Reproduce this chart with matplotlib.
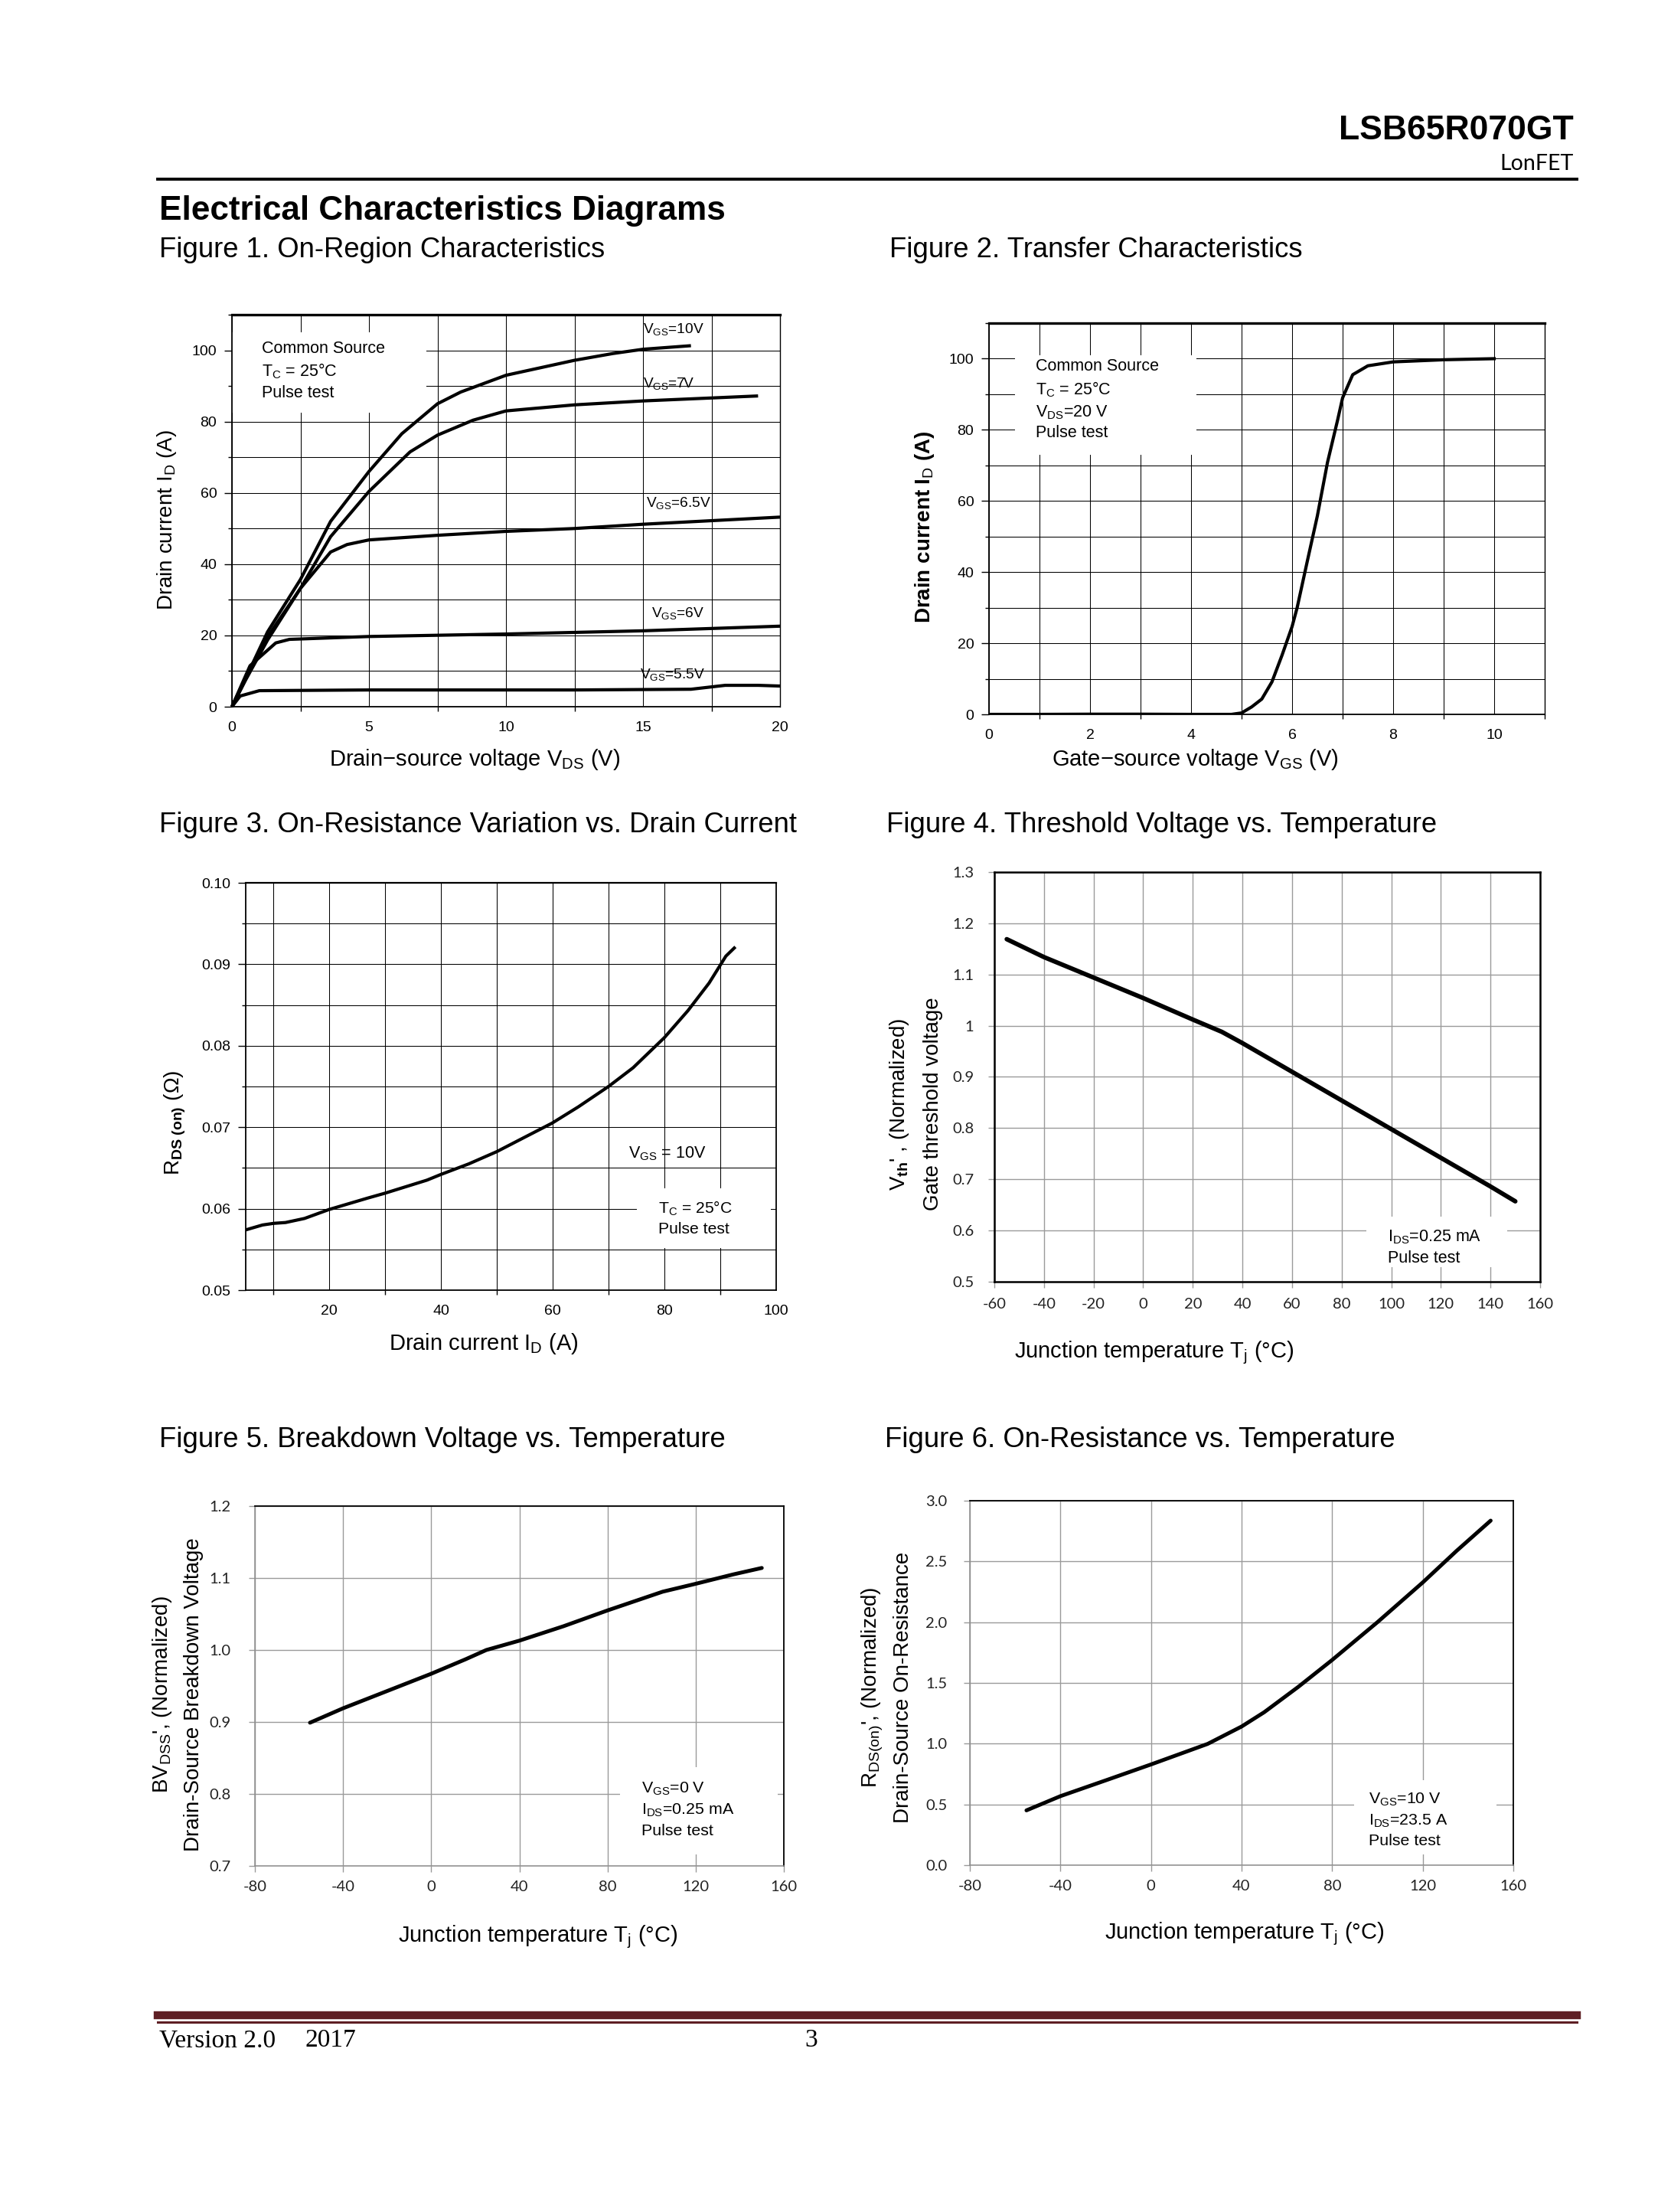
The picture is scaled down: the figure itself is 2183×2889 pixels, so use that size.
import matplotlib
matplotlib.use('Agg')
import matplotlib.pyplot as plt
from matplotlib.ticker import MultipleLocator, FixedLocator, FixedFormatter, FormatStrFormatter
from matplotlib.patches import Rectangle

plt.rcParams['font.family'] = ['Liberation Sans', 'DejaVu Sans']
plt.rcParams['mathtext.fontset'] = 'custom'
plt.rcParams['mathtext.rm'] = 'Liberation Sans'
plt.rcParams['mathtext.it'] = 'Liberation Sans:italic'
plt.rcParams['mathtext.bf'] = 'Liberation Sans:bold'
plt.rcParams['axes.unicode_minus'] = False

# ---------------- data ----------------
# Figure 1: On-region characteristics (VDS [V], ID [A])
f1_vgs10_x = [0, 0.5, 1.3, 2.5, 3.6, 5, 6.2, 7.5, 8.35, 10, 12.5, 13.9, 15, 16.75]
f1_vgs10_y = [0, 8, 21, 35.7, 52, 66, 76.6, 85, 88.3, 93, 97.2, 99.1, 100.3, 101.3]
f1_vgs7_x = [0, 0.5, 1.3, 2.5, 3.6, 5, 6.5, 7.5, 8.8, 10, 12.5, 15, 19.2]
f1_vgs7_y = [0, 7.8, 19.6, 33.2, 47.7, 60.4, 71.5, 76.2, 80.4, 83, 84.7, 85.8, 87.2]
f1_vgs65_x = [0, 0.5, 1.3, 2.5, 3.6, 4.2, 5, 7.5, 10, 12.5, 15, 20]
f1_vgs65_y = [0, 7.5, 18.7, 33.2, 43.4, 45.5, 46.8, 48.1, 49.2, 50, 51.2, 53.2]
f1_vgs6_x = [0, 0.66, 1.6, 2.1, 5, 10, 15, 20]
f1_vgs6_y = [0, 11.5, 17.9, 18.9, 19.7, 20.4, 21.3, 22.6]
f1_vgs55_x = [0, 0.3, 1.0, 5, 12.5, 16.75, 18, 19.2, 20]
f1_vgs55_y = [0, 3, 4.5, 4.7, 4.7, 4.9, 6, 6, 5.8]
f1_labels = ['V$_{\\mathrm{GS}}$=10V', 'V$_{\\mathrm{GS}}$=7V', 'V$_{\\mathrm{GS}}$=6.5V',
             'V$_{\\mathrm{GS}}$=6V', 'V$_{\\mathrm{GS}}$=5.5V']
f1_label_x = [15.0, 15.0, 15.1, 15.3, 14.9]
f1_label_y = [106, 90.6, 57.2, 26.2, 9.1]

# Figure 2: Transfer characteristics (VGS [V], ID [A])
f2_vgs = [0, 1, 2, 3, 4, 4.8, 5.0, 5.2, 5.4, 5.6, 5.8, 6.0, 6.1, 6.3, 6.5, 6.7, 6.9, 7.0, 7.2, 7.5, 8.0, 9.0, 10.0]
f2_id = [0, 0, 0.05, 0.05, 0, 0, 0.4, 2.1, 4.3, 9.1, 16.6, 24.7, 30, 43, 55.8, 70.8, 82.7, 89, 95.5, 98, 99.1, 99.7, 100]

# Figure 3: RDS(on) vs drain current
f3_id = [5.1, 8.1, 10.1, 12.2, 15.6, 20, 26.9, 30, 37.5, 40, 45, 50, 54.8, 59.9, 64.6, 70, 74.4, 80, 84.2, 88, 91, 92.5]
f3_rds = [0.0574, 0.058, 0.0582, 0.0583, 0.0588, 0.0599, 0.0613, 0.0619, 0.0635, 0.0642, 0.0655, 0.0670,
          0.0687, 0.0705, 0.0725, 0.0750, 0.0773, 0.0810, 0.0843, 0.0877, 0.0910, 0.0920]

# Figure 4: threshold voltage vs temperature
f4_tj = [-55, -40, -20, 0, 20, 31.7, 40, 60, 80, 100, 120, 140, 150]
f4_vth = [1.169, 1.134, 1.094, 1.054, 1.012, 0.988, 0.966, 0.910, 0.854, 0.798, 0.742, 0.686, 0.657]
f4_yticklabels = ['0.5', '0.6', '0.7', '0.8', '0.9', '1', '1.1', '1.2', '1.3']

# Figure 5: breakdown voltage vs temperature
f5_tj = [-55, -40, -20, 0, 15.5, 25, 40, 60, 80, 105, 120, 137, 150]
f5_bv = [0.899, 0.919, 0.943, 0.967, 0.987, 1.0, 1.013, 1.033, 1.055, 1.081, 1.092, 1.105, 1.114]

# Figure 6: on-resistance vs temperature
f6_tj = [-55, -40, -20, 0, 25, 40, 50, 65, 80, 100, 120, 135, 150]
f6_rn = [0.451, 0.568, 0.698, 0.829, 0.998, 1.141, 1.259, 1.467, 1.689, 2.0, 2.327, 2.588, 2.836]

# ---------------- figure ----------------
W, H = 2183, 2889
DPI = 100
fig = plt.figure(figsize=(W / DPI, H / DPI), dpi=DPI)
fig.patch.set_facecolor('white')


def px_axes(l, t, r, b):
    return fig.add_axes([l / W, 1 - b / H, (r - l) / W, (b - t) / H])


def ptext(x, y, s, **kw):
    return fig.text(x / W, 1 - y / H, s, **kw)


def hline(x0, x1, y, **kw):
    fig.add_artist(plt.Line2D([x0 / W, x1 / W], [1 - y / H, 1 - y / H], **kw))


def white_box(ax, x0, y0, x1, y1):
    ax.add_patch(Rectangle((x0, y0), x1 - x0, y1 - y0, transform=ax.transAxes,
                           facecolor='white', edgecolor='none', zorder=1))


def style_black(ax, tick_size=14):
    """Scanned-style plots (Fig 1-3): black grid, outward minor ticks."""
    ax.set_axisbelow(True)
    ax.grid(True, which='both', color='black', linewidth=0.75)
    for sp in ax.spines.values():
        sp.set_linewidth(1.3)
        sp.set_color('black')
    ax.tick_params(which='both', direction='out', width=1, color='black')
    ax.tick_params(axis='x', which='major', length=0, pad=14, labelsize=tick_size)
    ax.tick_params(axis='x', which='minor', length=4.3)
    ax.tick_params(axis='y', which='major', length=7.2, pad=7, labelsize=tick_size)
    ax.tick_params(axis='y', which='minor', length=3.6)
    for lab in ax.get_xticklabels() + ax.get_yticklabels():
        lab.set_fontfamily(['Liberation Sans'])


def style_gray(ax, xpad, ypad, tick_size=14.5):
    """Spreadsheet-style plots (Fig 4-6): gray grid, gray outward ticks."""
    gc = '#9a9a9a'
    ax.set_axisbelow(True)
    ax.grid(True, which='major', color=gc, linewidth=1.0)
    ax.tick_params(which='major', direction='out', length=5.8, width=1, color=gc,
                   labelsize=tick_size, labelcolor='#222222')
    ax.tick_params(axis='x', pad=xpad)
    ax.tick_params(axis='y', pad=ypad)
    for lab in ax.get_xticklabels() + ax.get_yticklabels():
        lab.set_fontfamily(['Lato', 'Liberation Sans'])


TITLE_FS = 26.3
XL_FS = 21
YL_FS = 20

# ---- Header ----
ptext(2056, 170, 'LSB65R070GT', ha='right', va='center', fontsize=32, fontweight='bold')
ptext(2056, 214, 'LonFET', ha='right', va='center', fontsize=20.5, family=['Lato', 'DejaVu Sans'])
hline(206, 2060, 234, color='black', linewidth=2.8)
ptext(208, 275, 'Electrical Characteristics Diagrams', ha='left', va='center', fontsize=31.8, fontweight='bold')
ptext(208, 326, 'Figure 1. On-Region Characteristics', ha='left', va='center', fontsize=TITLE_FS)
ptext(1162, 326, 'Figure 2. Transfer Characteristics', ha='left', va='center', fontsize=TITLE_FS)
ptext(208, 1077, 'Figure 3. On-Resistance Variation vs. Drain Current', ha='left', va='center', fontsize=TITLE_FS)
ptext(1158, 1077, 'Figure 4. Threshold Voltage vs. Temperature', ha='left', va='center', fontsize=TITLE_FS)
ptext(208, 1881, 'Figure 5. Breakdown Voltage vs. Temperature', ha='left', va='center', fontsize=TITLE_FS)
ptext(1156, 1881, 'Figure 6. On-Resistance vs. Temperature', ha='left', va='center', fontsize=TITLE_FS)

# ---- Figure 1 ----
ax1 = px_axes(303, 411, 1019, 923)
for xs, ys in [(f1_vgs10_x, f1_vgs10_y), (f1_vgs7_x, f1_vgs7_y), (f1_vgs65_x, f1_vgs65_y),
               (f1_vgs6_x, f1_vgs6_y), (f1_vgs55_x, f1_vgs55_y)]:
    ax1.plot(xs, ys, color='black', linewidth=3.0, solid_joinstyle='round', solid_capstyle='butt', zorder=3,
             clip_on=False)
ax1.set_xlim(0, 20)
ax1.set_ylim(0, 110)
ax1.xaxis.set_major_locator(MultipleLocator(5))
ax1.xaxis.set_minor_locator(MultipleLocator(2.5))
ax1.yaxis.set_major_locator(FixedLocator([0, 20, 40, 60, 80, 100]))
ax1.yaxis.set_minor_locator(MultipleLocator(10))
style_black(ax1)
ax1.spines['top'].set_linewidth(2.4)
ax1.spines['right'].set_linewidth(1.0)
white_box(ax1, 0.0, 0.75, 0.355, 0.955)
ax1.text(1.1, 102.8, 'Common Source\nT$_{\\mathrm{C}}$ = 25°C\nPulse test', ha='left', va='top',
         fontsize=15.5, linespacing=1.38, zorder=4)
for lx, ly, s in zip(f1_label_x, f1_label_y, f1_labels):
    ax1.text(lx, ly, s, ha='left', va='center', fontsize=13.8, zorder=4)
ptext(620, 992, 'Drain−source voltage V$_{\\mathrm{DS}}$ (V)', ha='center', va='center', fontsize=XL_FS)
ptext(218, 679, 'Drain current I$_{\\mathrm{D}}$ (A)', ha='center', va='center', fontsize=YL_FS, rotation=90)

# ---- Figure 2 ----
ax2 = px_axes(1292, 422, 2018, 933)
ax2.plot(f2_vgs, f2_id, color='black', linewidth=3.0, solid_joinstyle='round', zorder=3)
ax2.set_xlim(0, 11)
ax2.set_ylim(0, 110)
ax2.xaxis.set_major_locator(FixedLocator([0, 2, 4, 6, 8, 10]))
ax2.xaxis.set_minor_locator(MultipleLocator(1))
ax2.yaxis.set_major_locator(FixedLocator([0, 20, 40, 60, 80, 100]))
ax2.yaxis.set_minor_locator(MultipleLocator(10))
style_black(ax2)
ax2.spines['top'].set_linewidth(2.4)
ax2.spines['right'].set_linewidth(1.0)
white_box(ax2, 0.047, 0.664, 0.373, 0.918)
ax2.text(0.93, 100.0, 'Common Source\nT$_{\\mathrm{C}}$ = 25°C\nV$_{\\mathrm{DS}}$=20 V\nPulse test', ha='left',
         va='top', fontsize=15.5, linespacing=1.36, zorder=4)
ptext(1561, 992, 'Gate−source voltage V$_{\\mathrm{GS}}$ (V)', ha='center', va='center', fontsize=XL_FS)
ptext(1208, 688, 'Drain current I$_{\\mathrm{D}}$ (A)', ha='center', va='center', fontsize=YL_FS, rotation=90,
      fontweight='bold')

# ---- Figure 3 ----
ax3 = px_axes(321, 1153, 1014, 1685)
ax3.plot(f3_id, f3_rds, color='black', linewidth=3.0, solid_joinstyle='round', zorder=3)
ax3.set_xlim(5.08, 100)
ax3.set_ylim(0.05, 0.10)
ax3.xaxis.set_major_locator(FixedLocator([20, 40, 60, 80, 100]))
ax3.xaxis.set_minor_locator(FixedLocator([10, 30, 50, 70, 90]))
ax3.yaxis.set_major_locator(MultipleLocator(0.01))
ax3.yaxis.set_minor_locator(MultipleLocator(0.005))
ax3.yaxis.set_major_formatter(FormatStrFormatter('%.2f'))
style_black(ax3, tick_size=14)
ax3.spines['top'].set_linewidth(1.6)
white_box(ax3, 0.737, 0.104, 0.99, 0.25)
ax3.text(73.6, 0.0668, 'V$_{\\mathrm{GS}}$ = 10V', ha='left', va='center', fontsize=15.5, zorder=4)
ax3.text(78.9, 0.0611, 'T$_{\\mathrm{C}}$ = 25°C\nPulse test', ha='left', va='top', fontsize=15.2,
         linespacing=1.4, zorder=4)
ptext(632, 1755, 'Drain current I$_{\\mathrm{D}}$ (A)', ha='center', va='center', fontsize=XL_FS)
ptext(229, 1466, 'R$_{\\mathbf{DS\\ (on)}}$ (Ω)', ha='center', va='center', fontsize=YL_FS, rotation=90)

# ---- Figure 4 ----
ax4 = px_axes(1299, 1139, 2012, 1674)
ax4.plot(f4_tj, f4_vth, color='black', linewidth=4.2, solid_capstyle='round', solid_joinstyle='round', zorder=3)
ax4.set_xlim(-60, 160)
ax4.set_ylim(0.5, 1.3)
ax4.xaxis.set_major_locator(MultipleLocator(20))
ax4.yaxis.set_major_locator(FixedLocator([0.5, 0.6, 0.7, 0.8, 0.9, 1.0, 1.1, 1.2, 1.3]))
ax4.yaxis.set_major_formatter(FixedFormatter(f4_yticklabels))
style_gray(ax4, xpad=9.2, ypad=13.5)
for sp in ax4.spines.values():
    sp.set_linewidth(1.8)
    sp.set_color('black')
white_box(ax4, 0.682, 0.035, 0.94, 0.159)
ax4.text(98.6, 0.604, 'I$_{\\mathrm{DS}}$=0.25 mA\nPulse test', ha='left', va='top', fontsize=15.5,
         linespacing=1.35, zorder=4)
ptext(1508, 1767, 'Junction temperature T$_{\\mathrm{j}}$ (°C)', ha='center', va='center', fontsize=XL_FS)
ptext(1175, 1442, "V$_{\\mathbf{th}}$' , (Normalized)", ha='center', va='center', fontsize=YL_FS, rotation=90)
ptext(1219, 1442, 'Gate threshold voltage', ha='center', va='center', fontsize=YL_FS, rotation=90)

# ---- Figure 5 ----
ax5 = px_axes(333, 1967, 1024, 2437)
ax5.plot(f5_tj, f5_bv, color='black', linewidth=3.6, solid_capstyle='round', solid_joinstyle='round', zorder=3)
ax5.set_xlim(-80, 160)
ax5.set_ylim(0.7, 1.2)
ax5.xaxis.set_major_locator(MultipleLocator(40))
ax5.yaxis.set_major_locator(MultipleLocator(0.1))
ax5.yaxis.set_major_formatter(FormatStrFormatter('%.1f'))
style_gray(ax5, xpad=8.2, ypad=17)
for side in ['left', 'bottom']:
    ax5.spines[side].set_color('#8c8c8c')
    ax5.spines[side].set_linewidth(1.1)
for side in ['top', 'right']:
    ax5.spines[side].set_color('black')
    ax5.spines[side].set_linewidth(1.3)
white_box(ax5, 0.691, 0.032, 0.988, 0.274)
ax5.text(95.4, 0.818, 'V$_{\\mathrm{GS}}$=0 V\nI$_{\\mathrm{DS}}$=0.25 mA\nPulse test', ha='left', va='top',
         fontsize=15.4, linespacing=1.42, zorder=4)
ptext(703, 2530, 'Junction temperature T$_{\\mathrm{j}}$ (°C)', ha='center', va='center', fontsize=XL_FS)
ptext(212, 2213, "BV$_{\\mathrm{DSS}}$', (Normalized)", ha='center', va='center', fontsize=YL_FS, rotation=90)
ptext(253, 2213, 'Drain-Source Breakdown Voltage', ha='center', va='center', fontsize=YL_FS, rotation=90)

# ---- Figure 6 ----
ax6 = px_axes(1267, 1960, 1977, 2436)
ax6.plot(f6_tj, f6_rn, color='black', linewidth=3.6, solid_capstyle='round', solid_joinstyle='round', zorder=3)
ax6.set_xlim(-80, 160)
ax6.set_ylim(0, 3.0)
ax6.xaxis.set_major_locator(MultipleLocator(40))
ax6.yaxis.set_major_locator(MultipleLocator(0.5))
ax6.yaxis.set_major_formatter(FormatStrFormatter('%.1f'))
style_gray(ax6, xpad=8.2, ypad=15.5)
for side in ['left', 'bottom']:
    ax6.spines[side].set_color('#8c8c8c')
    ax6.spines[side].set_linewidth(1.1)
for side in ['top', 'right']:
    ax6.spines[side].set_color('black')
    ax6.spines[side].set_linewidth(1.3)
white_box(ax6, 0.707, 0.029, 0.969, 0.233)
ax6.text(96, 0.61, 'V$_{\\mathrm{GS}}$=10 V\nI$_{\\mathrm{DS}}$=23.5 A\nPulse test', ha='left', va='top',
         fontsize=15.4, linespacing=1.42, zorder=4)
ptext(1626, 2526, 'Junction temperature T$_{\\mathrm{j}}$ (°C)', ha='center', va='center', fontsize=XL_FS)
ptext(1140, 2204, "R$_{\\mathrm{DS(on)}}$', (Normalized)", ha='center', va='center', fontsize=YL_FS, rotation=90)
ptext(1180, 2204, 'Drain-Source On-Resistance', ha='center', va='center', fontsize=YL_FS, rotation=90)

# ---- Footer ----
footer_col = '#5e1f24'
hline(206, 2060, 2632, color=footer_col, linewidth=7.5)
hline(206, 2060, 2641, color=footer_col, linewidth=2.2)
ptext(208, 2665, 'Version 2.0', ha='left', va='center', fontsize=24, family=['Liberation Serif'])
ptext(398, 2665, '2017', ha='left', va='center', fontsize=24, family=['Liberation Serif'])
ptext(1051, 2665, '3', ha='left', va='center', fontsize=24, family=['Liberation Serif'])

fig.savefig('out.png', dpi=DPI, facecolor='white')
